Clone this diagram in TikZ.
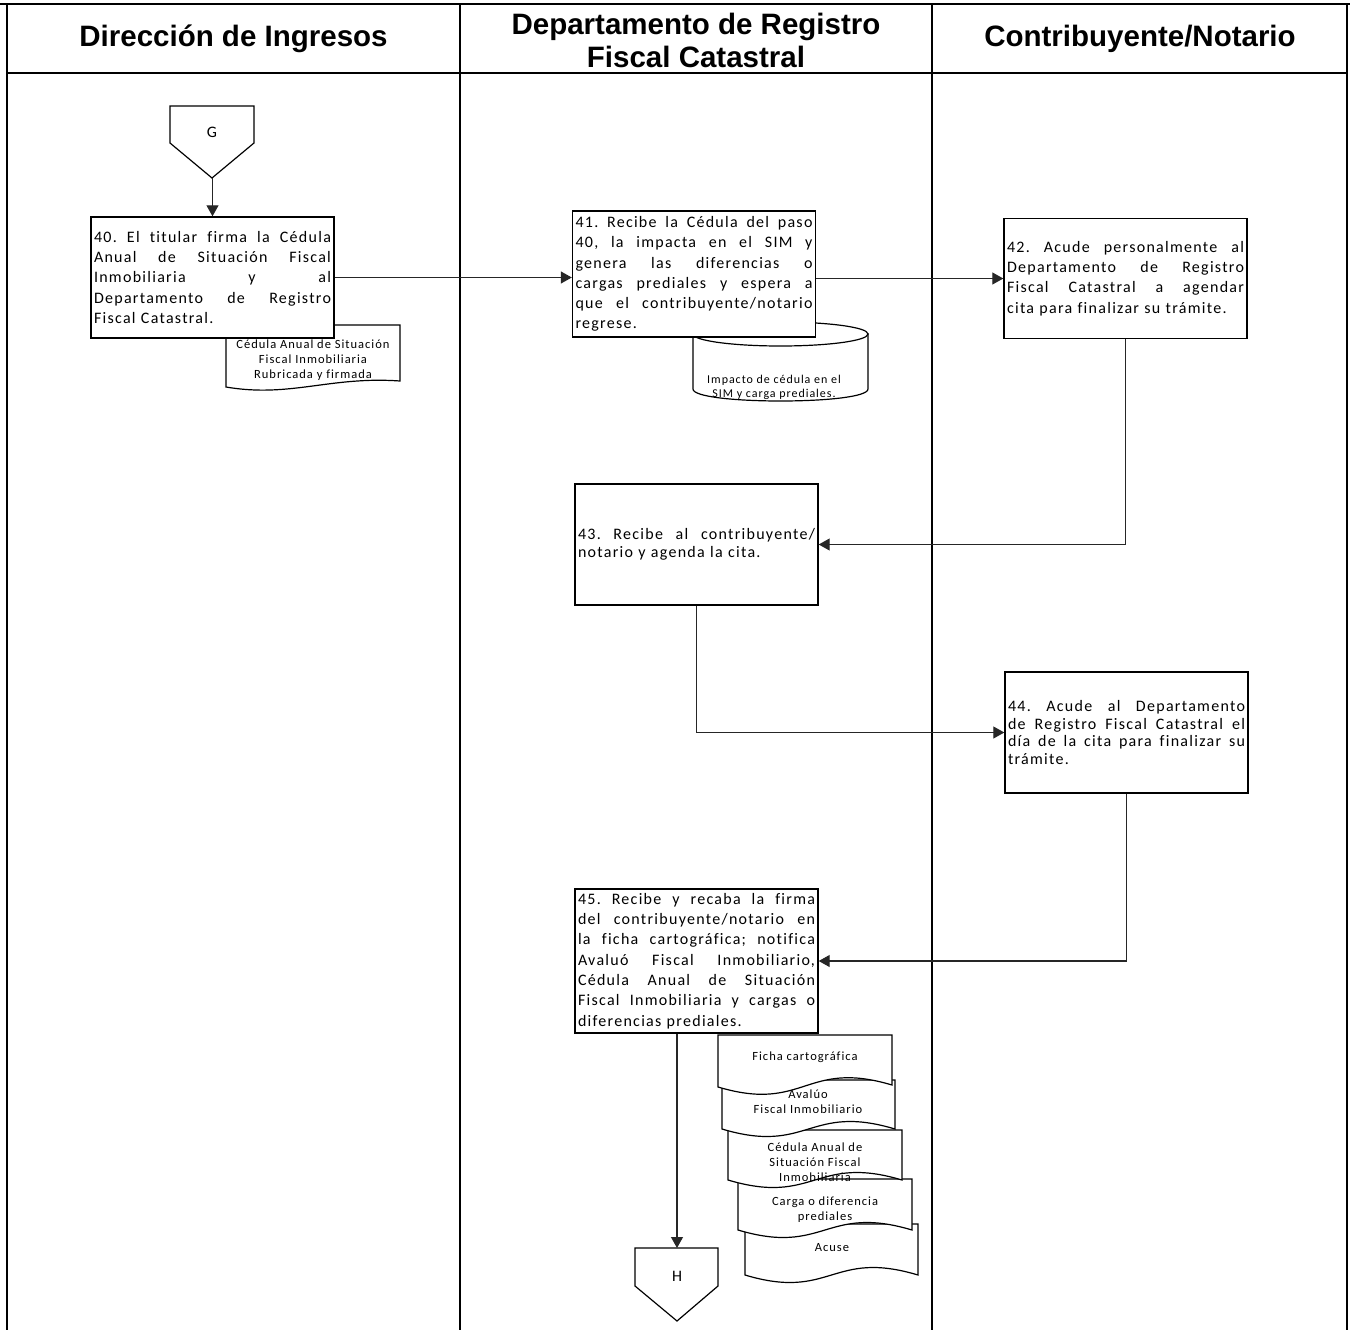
\documentclass[tikz,border=0pt]{standalone}
\usepackage{fontspec}
\setmainfont{Carlito}
\newfontfamily\hdrfont{Liberation Sans}
\newfontfamily\bodyfont[LetterSpace=8,Ligatures=CommonOff]{Carlito}
\usetikzlibrary{arrows.meta}
\newlength\tw \setlength\tw{237pt}
\def\jlw#1 #2\jlend{#1\ifx\relax#2\relax\else\hfill\jlw#2\jlend\fi}
\newcommand\jl[1]{\leavevmode\hbox to \tw{\jlw#1 \jlend}\\}
\newcommand\docsh[9]{%
  \draw[shp] (#2,#3) -- (#4,#3) -- (#4,#6) .. controls ({(#2+#4)/2},{#6-26}) and ({(#2+#4)/2},{#5+26}) .. (#2,#5) -- cycle;
  \node[small] (#1) at (#8,#9) {#7};
}
\begin{document}
\begin{tikzpicture}[x=1pt,y=-1pt,
  frame/.style={line width=2pt},
  hdr/.style={font={\hdrfont\bfseries\fontsize{29.5}{33}\selectfont}, align=center, inner sep=0pt},
  proc/.style={draw, line width=1.4pt, fill=white, text width=237pt, inner xsep=3pt, inner ysep=0pt,
    font={\bodyfont\fontsize{16}{20.3}\selectfont}, align=left},
  shp/.style={draw, line width=1.2pt, fill=white},
  small/.style={font={\bodyfont\fontsize{12.5}{15}\selectfont}, align=center, inner sep=0pt},
  conn/.style={line width=1.1pt, draw=black!85, -{Triangle[length=11pt,width=12pt]}}]
\useasboundingbox (0,0) rectangle (1350,1330);
\fill[white] (0,0) rectangle (1350,1330);
% frame
\draw[line width=2.5pt] (0,4) -- (1350,4);
\draw[line width=2.5pt] (7,73) -- (1347,73);
\draw[frame] (7,4) -- (7,1330);
\draw[frame] (460,4) -- (460,1330);
\draw[frame] (932,4) -- (932,1330);
\draw[frame] (1347,4) -- (1347,1330);
% headers
\node[hdr] (h1) at (233.5,38.5) {Dirección de Ingresos};
\node[hdr] (h2) at (696,40.5) {Departamento de Registro\\Fiscal Catastral};
\node[hdr] (h3) at (1140,38.5) {Contribuyente/Notario};
% G connector
\draw[shp] (170,106) -- (254,106) -- (254,143) -- (212,178) -- (170,143) -- cycle;
\node[font={\fontsize{16}{18}\selectfont}, inner sep=0pt] (g) at (212,132) {G};
\coordinate (gtip) at (212.5,178);
% document under box 40
\draw[shp] (226,325) -- (400,325) -- (400,381) .. controls (330,376) and (290,398) .. (226,387) -- cycle;
\node[small] (d40) at (313,360) {Cédula Anual de Situación\\Fiscal Inmobiliaria\\Rubricada y firmada};
\node[proc, minimum height=121pt] (b40) at (212.5,277.5) {%
\jl{40. El titular firma la Cédula}
\jl{Anual de Situación Fiscal}
\jl{Inmobiliaria y al}
\jl{Departamento de Registro}
Fiscal Catastral.};
% cylinder
\draw[shp] (693,334) -- (693,389) .. controls (693,405) and (868,405) .. (868,389) -- (868,334) -- cycle;
\draw[shp] (780.5,334) ellipse [x radius=87.5, y radius=12];
\node[small, font={\bodyfont\fontsize{12}{14}\selectfont}] (db41) at (774,387.5) {Impacto de cédula en el\\SIM y carga prediales.};
\node[proc, minimum height=126pt] (b41) at (694,274) {%
\jl{41. Recibe la Cédula del paso}
\jl{40, la impacta en el SIM y}
\jl{genera las diferencias o}
\jl{cargas prediales y espera a}
\jl{que el contribuyente/notario}
regrese.};
\node[proc, minimum height=120pt] (b42) at (1125.5,278.5) {%
\jl{42. Acude personalmente al}
\jl{Departamento de Registro}
\jl{Fiscal Catastral a agendar}
cita para finalizar su trámite.};
\node[proc, minimum height=121pt, font={\bodyfont\fontsize{16}{17.5}\selectfont}] (b43) at (696.5,544.5) {%
\jl{43. Recibe al contribuyente/}
notario y agenda la cita.};
\node[proc, minimum height=121pt, font={\bodyfont\fontsize{16}{17.5}\selectfont}] (b44) at (1126.5,732.5) {%
\jl{44. Acude al Departamento}
\jl{de Registro Fiscal Catastral el}
\jl{día de la cita para finalizar su}
trámite.};
\node[proc, minimum height=144pt] (b45) at (696.5,961) {%
\jl{45. Recibe y recaba la firma}
\jl{del contribuyente/notario en}
\jl{la ficha cartográfica; notifica}
\jl{Avaluó Fiscal Inmobiliario,}
\jl{Cédula Anual de Situación}
\jl{Fiscal Inmobiliaria y cargas o}
diferencias prediales.};
% stacked documents
\docsh{f5}{745}{1224}{918}{1275}{1275}{Acuse}{832}{1248}
\docsh{f4}{738}{1179}{912}{1230}{1230}{Carga o diferencia\\prediales}{825}{1210}
\docsh{f3}{728}{1130}{902}{1180}{1180}{Cédula Anual de\\Situación Fiscal\\Inmobiliaria}{815}{1162}
\docsh{f2}{722}{1080}{895}{1129}{1129}{Avalúo\\Fiscal Inmobiliario}{808}{1102}
\docsh{f1}{718}{1035}{892}{1087}{1085}{Ficha cartográfica}{805}{1057}
% H connector
\draw[shp] (635,1248) -- (718,1248) -- (718,1286) -- (677,1321) -- (635,1286) -- cycle;
\node[font={\fontsize{16}{18}\selectfont}, inner sep=0pt] (h) at (677,1276) {H};
\coordinate (htop) at (677,1248);
% connectors
\draw[conn] (gtip) -- (b40.north);
\draw[conn] (b40.east) -- (b40.east -| b41.west);
\draw[conn] (b41.east |- b42.west) -- (b42.west);
\draw[conn] (b42.south) |- (b43.east);
\draw[conn] (b43.south) |- (b44.west);
\draw[conn] (b44.south) |- (b45.east);
\draw[conn] (b45.south -| htop) -- (htop);
\end{tikzpicture}
\end{document}
